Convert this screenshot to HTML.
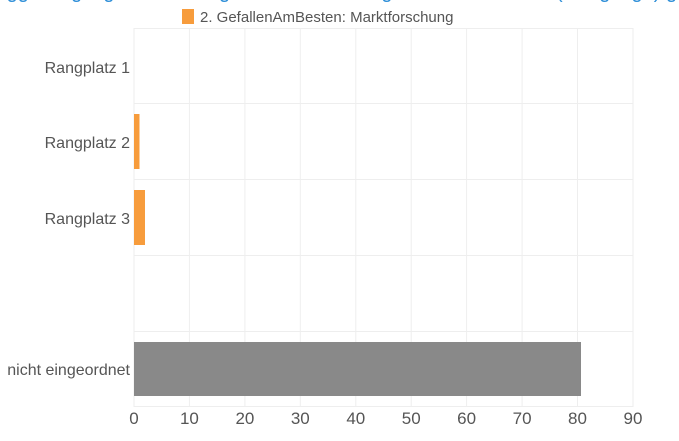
<!DOCTYPE html>
<html><head><meta charset="utf-8"><style>
body{margin:0;width:679px;height:436px;overflow:hidden;background:#fff;font-family:"Liberation Sans",Arial,sans-serif}
</style></head><body>
<svg width="679" height="436" xmlns="http://www.w3.org/2000/svg" font-family="Liberation Sans, Arial, sans-serif">
<text x="-10" y="-2" font-size="20" fill="#2f8fd8">g gg  Rangfolge der Vorträge nach Gefallen: gefallen am besten (Rangfolge) g</text>
<rect x="182" y="9" width="12" height="15" fill="#f79c3c"/>
<text x="200" y="22" font-size="15" fill="#555">2. GefallenAmBesten: Marktforschung</text>
<g stroke="#eeeeee" stroke-width="1">
<line x1="134" y1="28" x2="134" y2="407"/>
<line x1="189.4" y1="28" x2="189.4" y2="407"/>
<line x1="244.9" y1="28" x2="244.9" y2="407"/>
<line x1="300.3" y1="28" x2="300.3" y2="407"/>
<line x1="355.8" y1="28" x2="355.8" y2="407"/>
<line x1="411.2" y1="28" x2="411.2" y2="407"/>
<line x1="466.6" y1="28" x2="466.6" y2="407"/>
<line x1="522.1" y1="28" x2="522.1" y2="407"/>
<line x1="577.5" y1="28" x2="577.5" y2="407"/>
<line x1="633" y1="28" x2="633" y2="407"/>
<line x1="134" y1="28.5" x2="633" y2="28.5"/>
<line x1="134" y1="103.5" x2="633" y2="103.5"/>
<line x1="134" y1="179.5" x2="633" y2="179.5"/>
<line x1="134" y1="255.5" x2="633" y2="255.5"/>
<line x1="134" y1="331.5" x2="633" y2="331.5"/>
<line x1="134" y1="406.5" x2="633" y2="406.5"/>
</g>
<rect x="134" y="114" width="5.5" height="55" fill="#f79c3c"/>
<rect x="134" y="190" width="11" height="55" fill="#f79c3c"/>
<rect x="134" y="342" width="447" height="54" fill="#898989"/>
<g font-size="16" fill="#555" text-anchor="end">
<text x="130" y="73">Rangplatz 1</text>
<text x="130" y="148">Rangplatz 2</text>
<text x="130" y="224">Rangplatz 3</text>
<text x="130" y="375">nicht eingeordnet</text>
</g>
<g font-size="17" fill="#555" text-anchor="middle">
<text x="134" y="424">0</text><text x="189.4" y="424">10</text><text x="244.9" y="424">20</text>
<text x="300.3" y="424">30</text><text x="355.8" y="424">40</text><text x="411.2" y="424">50</text>
<text x="466.6" y="424">60</text><text x="522.1" y="424">70</text><text x="577.5" y="424">80</text>
<text x="633" y="424">90</text>
</g>
</svg>
</body></html>
